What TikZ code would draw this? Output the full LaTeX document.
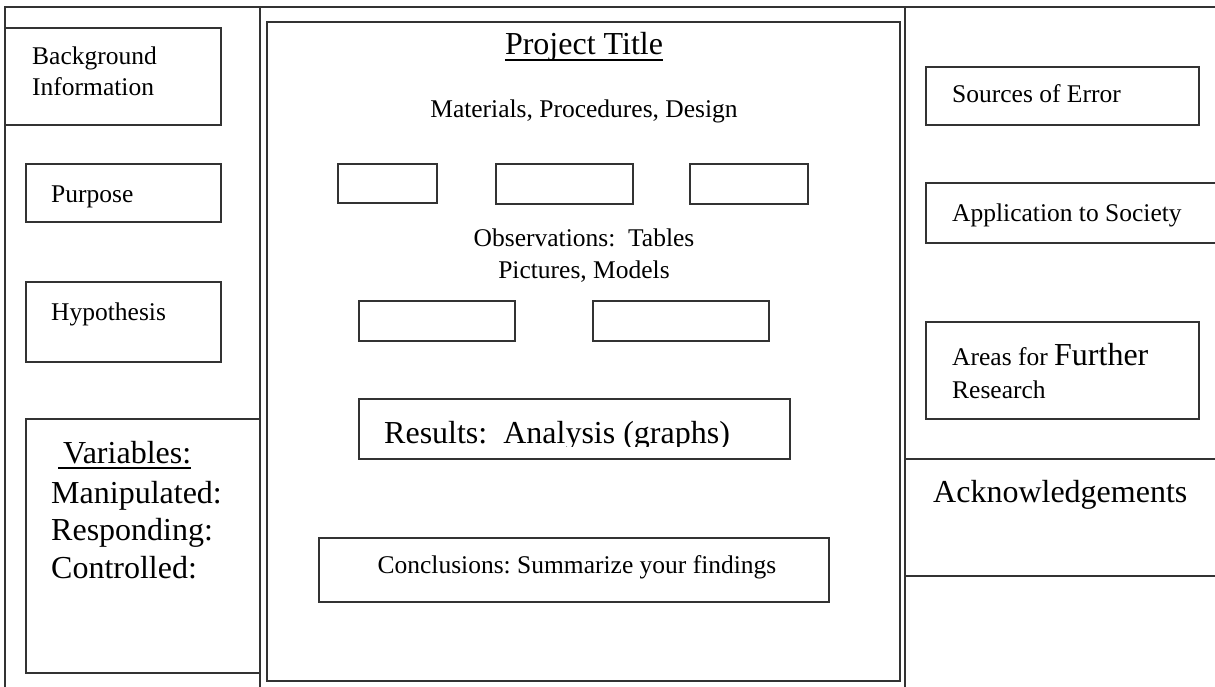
\documentclass[tikz,border=0pt]{standalone}
\usepackage{fontspec}
\setmainfont{Liberation Serif}
\frenchspacing

\tikzset{
  frame/.style = {draw = black!80, line width = 1.6pt},
  small/.style = {inner sep = 0pt, font = \fontsize{25.5}{31}\selectfont},
  large/.style = {inner sep = 0pt, font = \fontsize{32}{37}\selectfont}
}

\begin{document}
\begin{tikzpicture}[x = 1pt, y = -1pt]
    \useasboundingbox (0, 0) rectangle (1215, 687);

    \draw[frame] (5, 687) -- (5, 7) -- (1215, 7);
    \draw[frame] (260, 7) -- (260, 687);
    \draw[frame] (905, 7) -- (905, 687);
    \draw[frame] (905, 459) -- (1215, 459);
    \draw[frame] (905, 576) -- (1215, 576);
    \draw[frame] (267, 22) rectangle (900, 681);

    \draw[frame] (5, 28) rectangle (221, 125);
    \draw[frame] (26, 164) rectangle (221, 222);
    \draw[frame] (26, 282) rectangle (221, 362);
    \draw[frame] (26, 419) rectangle (260, 673);

    \draw[frame] (338, 164) rectangle (437, 203);
    \draw[frame] (496, 164) rectangle (633, 204);
    \draw[frame] (690, 164) rectangle (808, 204);
    \draw[frame] (359, 301) rectangle (515, 341);
    \draw[frame] (593, 301) rectangle (769, 341);
    \draw[frame] (359, 399) rectangle (790, 459);
    \draw[frame] (319, 538) rectangle (829, 602);

    \draw[frame] (926, 67) rectangle (1199, 125);
    \draw[frame] (926, 183) rectangle (1217, 243);
    \draw[frame] (926, 322) rectangle (1199, 419);

    \node[small, anchor = base west] (bg1) at (32, 65) {Background};
    \node[small, anchor = base west] (bg2) at (32, 96) {Information};
    \node[small, anchor = base west] (purpose) at (51, 203) {Purpose};
    \node[small, anchor = base west] (hypo) at (51, 320) {Hypothesis};

    \node[large, anchor = base west] (vars) at (63, 463) {Variables:};
    \draw[line width = 1.2pt] ([xshift = -5pt, yshift = -5pt]vars.base west)
      -- ([yshift = -5pt]vars.base east);
    \node[large, anchor = base west] (manip) at (51, 503) {Manipulated:};
    \node[large, anchor = base west] (resp) at (51, 540) {Responding:};
    \node[large, anchor = base west] (ctrl) at (51, 578) {Controlled:};

    \node[large, anchor = base] (title) at (584, 55) {Project Title};
    \draw[line width = 1.2pt] ([yshift = -5pt]title.base west)
      -- ([yshift = -5pt]title.base east);
    \node[small, anchor = base] (mats) at (584, 118) {Materials, Procedures, Design};
    \node[small, anchor = base] (obs1) at (584, 247) {Observations:~ Tables};
    \node[small, anchor = base] (obs2) at (584, 278) {Pictures, Models};

    \begin{scope}
      \clip (359, 399) rectangle (790, 446);
      \node[large, anchor = base west] (results) at (384, 443) {Results:~ Analysis (graphs)};
    \end{scope}

    \node[small, anchor = base] (concl) at (577, 573) {Conclusions: Summarize your findings};

    \node[small, anchor = base west] (errors) at (952, 103) {Sources of Error};
    \node[small, anchor = base west] (society) at (952, 222) {Application to Society};
    \node[small, anchor = base west] (areas) at (952, 365)
      {Areas for {\fontsize{32}{37}\selectfont Further}};
    \node[small, anchor = base west] (research) at (952, 398) {Research};
    \node[large, anchor = base west] (thanks) at (933, 502) {Acknowledgements};

  \end{tikzpicture}
\end{document}
